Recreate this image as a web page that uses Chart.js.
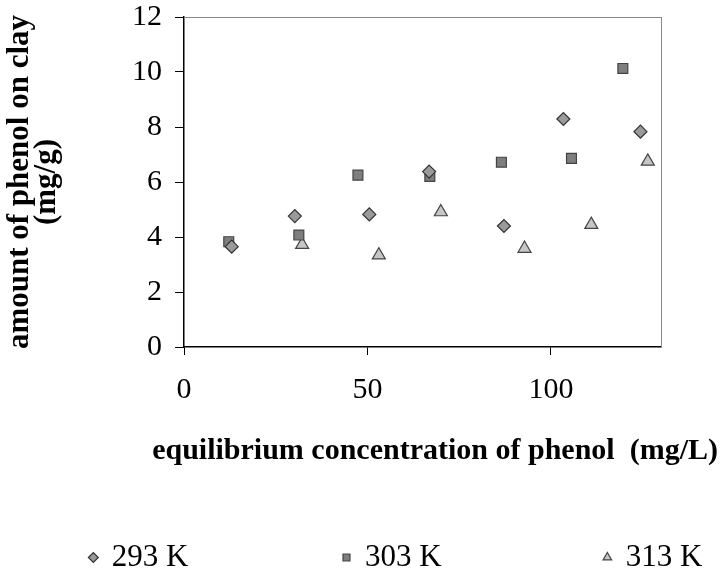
<!DOCTYPE html>
<html>
<head>
<meta charset="utf-8">
<script src="https://cdn.jsdelivr.net/npm/chart.js@4.4.1/dist/chart.umd.min.js"></script>
<style>
html,body{margin:0;padding:0;background:#fff;}
#wrap{width:723px;height:575px;}
</style>
</head>
<body>
<div id="wrap"><canvas id="c" width="723" height="575"></canvas></div>
<script>
// ---- data ----
const seriesNames = ['293 K', '303 K', '313 K'];

const conc293 = [13.0, 30.2, 50.5, 66.8, 87.2, 103.4, 124.4];
const amount293 = [3.65, 4.76, 4.82, 6.38, 4.40, 8.29, 7.83];

const conc303 = [12.2, 31.3, 47.4, 67.0, 86.5, 105.6, 119.6];
const amount303 = [3.83, 4.07, 6.25, 6.20, 6.72, 6.86, 10.13];

const conc313 = [32.2, 53.1, 70.0, 92.8, 111.0, 126.4];
const amount313 = [3.72, 3.34, 4.91, 3.58, 4.45, 6.75];

const xTickValues = [0, 50, 100];
const yTickValues = [0, 2, 4, 6, 8, 10, 12];

const xTitle = 'equilibrium concentration of phenol  (mg/L)';
const yTitle = ['amount of phenol on clay', '(mg/g)'];

// ---- chart ----
Chart.defaults.font.family = "'Liberation Serif', 'Times New Roman', serif";
Chart.defaults.color = '#000';

const toPoints = (xs, ys) => xs.map((x, i) => ({x: x, y: ys[i]}));
const legendGap = [20, 21, 2]; // spacer characters after each legend text

new Chart(document.getElementById('c'), {
  type: 'scatter',
  data: {
    datasets: [
      {
        label: seriesNames[0],
        data: toPoints(conc293, amount293),
        pointStyle: 'rectRot',
        pointRadius: 6.5,
        backgroundColor: '#9a9a9a',
        borderColor: '#333333',
        borderWidth: 1.2
      },
      {
        label: seriesNames[1],
        data: toPoints(conc303, amount303),
        pointStyle: 'rect',
        pointRadius: 7,
        backgroundColor: '#7e7e7e',
        borderColor: '#444444',
        borderWidth: 1.2
      },
      {
        label: seriesNames[2],
        data: toPoints(conc313, amount313),
        pointStyle: 'triangle',
        pointRadius: 7.5,
        backgroundColor: '#c6c6c6',
        borderColor: '#444444',
        borderWidth: 1.2
      }
    ]
  },
  options: {
    responsive: false,
    animation: false,
    devicePixelRatio: 1,
    layout: {padding: {top: 17, left: 0, right: 5, bottom: 0}},
    scales: {
      x: {
        type: 'linear',
        position: 'bottom',
        min: 0,
        max: 130,
        afterBuildTicks: (s) => { s.ticks = xTickValues.map(v => ({value: v})); },
        ticks: {padding: 17, font: {size: 30}, color: '#000', maxRotation: 0, autoSkip: false},
        grid: {display: true, drawOnChartArea: false, drawTicks: true, tickLength: 8, color: '#000', lineWidth: 1},
        border: {display: true, color: '#000', width: 1.5},
        afterFit: (s) => { s.height = 79; s.paddingLeft = 0; s.paddingRight = 0; }
      },
      y: {
        type: 'linear',
        position: 'left',
        min: 0,
        max: 12,
        afterBuildTicks: (s) => { s.ticks = yTickValues.map(v => ({value: v})); },
        ticks: {padding: 13, font: {size: 30}, color: '#000', autoSkip: false},
        grid: {display: true, drawOnChartArea: false, drawTicks: true, tickLength: 9, color: '#000', lineWidth: 1},
        border: {display: true, color: '#000', width: 1.5},
        title: {
          display: true,
          text: yTitle,
          color: '#000',
          font: {size: 31, weight: 'bold', lineHeight: 0.85},
          padding: {top: 7, bottom: 0}
        },
        afterFit: (s) => { s.width = 184; s.paddingTop = 0; s.paddingBottom = 0; }
      },
      x2: {
        type: 'linear',
        position: 'top',
        min: 0,
        max: 130,
        ticks: {display: false},
        grid: {display: false, drawTicks: false},
        border: {display: true, color: '#8a8a8a', width: 1},
        afterFit: (s) => { s.height = 0; s.paddingLeft = 0; s.paddingRight = 0; }
      },
      y2: {
        type: 'linear',
        position: 'right',
        min: 0,
        max: 12,
        ticks: {display: false},
        grid: {display: false, drawTicks: false},
        border: {display: true, color: '#8a8a8a', width: 1},
        afterFit: (s) => { s.width = 57; s.paddingTop = 0; s.paddingBottom = 0; }
      }
    },
    plugins: {
      tooltip: {enabled: false},
      title: {
        display: true,
        position: 'bottom',
        align: 'end',
        weight: 500,
        text: xTitle,
        color: '#000',
        font: {size: 30, weight: 'bold', lineHeight: 1.2},
        padding: {top: 7, bottom: 73}
      },
      legend: {
        display: true,
        position: 'bottom',
        align: 'end',
        maxHeight: 33,
        labels: {
          usePointStyle: true,
          boxWidth: 6,
          boxHeight: 7,
          padding: 0,
          color: '#000',
          font: {size: 31},
          generateLabels: (chart) => {
            const items = Chart.defaults.plugins.legend.labels.generateLabels(chart);
            items.forEach((it, i) => { it.text = it.text + '\u00A0'.repeat(legendGap[i]); });
            return items;
          }
        }
      }
    }
  }
});
</script>
</body>
</html>
